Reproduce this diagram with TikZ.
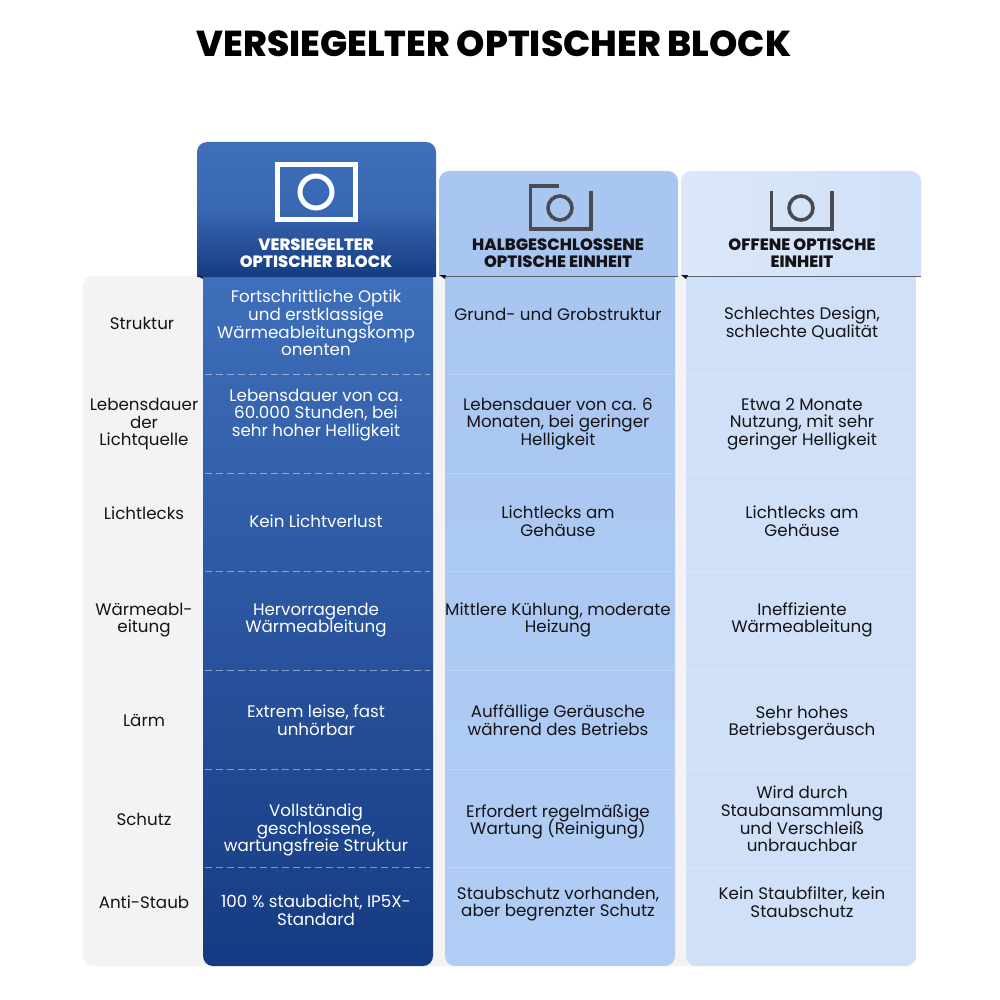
\documentclass[tikz,border=0pt]{standalone}
\usepackage{fontspec}
\setmainfont{Poppins}
\newfontfamily\titlefont{Poppins ExtraBold}
\usepackage{xcolor}
\usepackage{tikz}
\normallineskiplimit=-20pt
\lineskiplimit=-20pt
\definecolor{bluetop}{HTML}{3F6FBB}
\definecolor{bluelow}{HTML}{153B82}
\definecolor{midblue}{HTML}{B1CDF5}
\definecolor{midtop}{HTML}{A9C6F1}
\definecolor{paleblue}{HTML}{D0E0F8}
\definecolor{paletop}{HTML}{DCE8FA}
\definecolor{panelgray}{HTML}{F3F3F4}
\definecolor{iconink}{HTML}{4A4B52}
\definecolor{inkblack}{HTML}{141418}
\tikzstyle{lighttext}=[align=center,text=white,font=\fontsize{16.7}{17.6}\selectfont]
\tikzstyle{darktext}=[align=center,text=inkblack,font=\fontsize{16.7}{17.6}\selectfont]
\tikzstyle{headlight}=[align=center,text=white,font=\fontsize{16.4}{17.6}\selectfont\titlefont]
\tikzstyle{headdark}=[align=center,text=inkblack,font=\fontsize{16.4}{17.6}\selectfont\titlefont]
\tikzstyle{maintitle}=[align=center,text=black,font=\fontsize{36}{40}\selectfont\titlefont]
\tikzstyle{bluecol}=[top color=bluetop,bottom color=bluelow]
\tikzstyle{whitedash}=[draw=white,semithick,opacity=.45,dash pattern=on 7pt off 4pt]
\tikzstyle{fainta}=[draw=white,semithick,opacity=.2]
\tikzstyle{faintb}=[draw=white,semithick,opacity=.25]
\tikzstyle{iconwhite}=[draw=white,line width=5pt]
\tikzstyle{icondark}=[draw=iconink,line width=3.6pt]
\begin{document}
\begin{tikzpicture}[x=1pt,y=-1pt]
        \useasboundingbox (0,0) rectangle (1000,1000);
        \node at (494,44) [maintitle] (title) {VERSIEGELTER OPTISCHER BLOCK};

        % panels behind the columns
        \fill [panelgray,rounded corners=10pt] (83,276) rectangle (916,966);
        \shade [bluecol] (203,276) [rounded corners=10pt] -- (203,966) -- (433,966) [sharp corners] -- (433,276) -- cycle;
        \shade [top color=midtop,bottom color=midblue] (445,276) [rounded corners=10pt] -- (445,966) -- (675,966) [sharp corners] -- (675,276) -- cycle;
        \shade [top color=paleblue,bottom color=paleblue] (686,276) [rounded corners=10pt] -- (686,966) -- (916,966) [sharp corners] -- (916,276) -- cycle;

        % heads
        \shade [top color=bluetop,bottom color=bluelow,middle color=bluetop!85!bluelow] (197,277) [rounded corners=10pt] -- (197,142) -- (436,142) [sharp corners] -- (436,277) -- cycle;
        \shade [left color=midtop,right color=midtop] (439,276) [rounded corners=10pt] -- (439,171) -- (678,171) [sharp corners] -- (678,276) -- cycle;
        \shade [left color=paletop,right color=paleblue] (681,276) [rounded corners=10pt] -- (681,171) -- (921,171) [sharp corners] -- (921,276) -- cycle;
        \draw [iconink!85!midblue,thick] (445,276.5) -- (678,276.5);
        \draw [iconink!85!midblue,thick] (686,276.5) -- (921,276.5);
        \fill [bluelow!70!black] (197,276) -- (203,276) -- (203,279) -- cycle;
        \fill [inkblack] (439,275) -- (446,275) -- (445,279) -- cycle;
        \fill [inkblack] (681,275) -- (688,275) -- (686,279) -- cycle;

        % icons
        \node at (316,192) [circle,iconwhite,minimum size=32pt,inner sep=0pt] (lensa) {};
        \draw [iconwhite] (277.5,164.5) rectangle (355,220);
        \node at (560,208) [circle,icondark,minimum size=24pt,inner sep=0pt] (lensb) {};
        \draw [icondark] (559,186) -- (530.5,186) -- (530.5,229) -- (591,229) -- (591,191);
        \node at (801,208) [circle,icondark,minimum size=24pt,inner sep=0pt] (lensc) {};
        \draw [icondark] (771.5,191) -- (771.5,229) -- (832,229) -- (832,191);

        \node at (316,253) [headlight] (heada) {VERSIEGELTER\\OPTISCHER BLOCK};
        \node at (558,253) [headdark]  (headb) {HALBGESCHLOSSENE\\OPTISCHE EINHEIT};
        \node at (802,253) [headdark]  (headc) {OFFENE OPTISCHE\\EINHEIT};

        % row lines
        \draw [whitedash] (205,374) -- (430,374);
        \draw [whitedash] (205,473) -- (430,473);
        \draw [whitedash] (205,571) -- (430,571);
        \draw [whitedash] (205,670) -- (430,670);
        \draw [whitedash] (205,769) -- (430,769);
        \draw [whitedash] (205,867) -- (430,867);
        \draw [fainta] (445,374) -- (675,374);
        \draw [fainta] (445,473) -- (675,473);
        \draw [fainta] (445,571) -- (675,571);
        \draw [fainta] (445,670) -- (675,670);
        \draw [fainta] (445,769) -- (675,769);
        \draw [fainta] (445,867) -- (675,867);
        \draw [faintb] (686,374) -- (916,374);
        \draw [faintb] (686,473) -- (916,473);
        \draw [faintb] (686,571) -- (916,571);
        \draw [faintb] (686,670) -- (916,670);
        \draw [faintb] (686,769) -- (916,769);
        \draw [faintb] (686,867) -- (916,867);

        % left labels
        \node at (142,323) [darktext] (labelone)   {Struktur};
        \node at (144,424) [darktext] (labeltwo)   {Lebensdauer\\der\\Lichtquelle};
        \node at (144,513) [darktext] (labelthree) {Lichtlecks};
        \node at (144,620) [darktext] (labelfour)  {Wärmeabl-\\eitung};
        \node at (144,720) [darktext] (labelfive)  {Lärm};
        \node at (144,819) [darktext] (labelsix)   {Schutz};
        \node at (144,902) [darktext] (labelseven) {Anti-Staub};

        % first column
        \node at (316,323) [lighttext] (aone)   {Fortschrittliche Optik\\und erstklassige\\Wärmeableitungskomp\\onenten};
        \node at (316,415) [lighttext] (atwo)   {Lebensdauer von ca.\\60.000 Stunden, bei\\sehr hoher Helligkeit};
        \node at (316,521) [lighttext] (athree) {Kein Lichtverlust};
        \node at (316,620) [lighttext] (afour)  {Hervorragende\\Wärmeableitung};
        \node at (316,720) [lighttext] (afive)  {Extrem leise, fast\\unhörbar};
        \node at (316,830) [lighttext] (asix)   {Vollständig\\geschlossene,\\wartungsfreie Struktur};
        \node at (316,910) [lighttext] (aseven) {100 \% staubdicht, IP5X-\\Standard};

        % second column
        \node at (558,314) [darktext] (bone)   {Grund- und Grobstruktur};
        \node at (558,424) [darktext] (btwo)   {Lebensdauer von ca. 6\\Monaten, bei geringer\\Helligkeit};
        \node at (558,521) [darktext] (bthree) {Lichtlecks am\\Gehäuse};
        \node at (558,620) [darktext] (bfour)  {Mittlere Kühlung, moderate\\Heizung};
        \node at (558,720) [darktext] (bfive)  {Auffällige Geräusche\\während des Betriebs};
        \node at (558,822) [darktext] (bsix)   {Erfordert regelmäßige\\Wartung (Reinigung)};
        \node at (558,904) [darktext] (bseven) {Staubschutz vorhanden,\\aber begrenzter Schutz};

        % third column
        \node at (802,323) [darktext] (cone)   {Schlechtes Design,\\schlechte Qualität};
        \node at (802,424) [darktext] (ctwo)   {Etwa 2 Monate\\Nutzung, mit sehr\\geringer Helligkeit};
        \node at (802,521) [darktext] (cthree) {Lichtlecks am\\Gehäuse};
        \node at (802,620) [darktext] (cfour)  {Ineffiziente\\Wärmeableitung};
        \node at (802,723) [darktext] (cfive)  {Sehr hohes\\Betriebsgeräusch};
        \node at (802,819) [darktext] (csix)   {Wird durch\\Staubansammlung\\und Verschleiß\\unbrauchbar};
        \node at (802,902) [darktext] (cseven) {Kein Staubfilter, kein\\Staubschutz};
      \end{tikzpicture}
\end{document}
